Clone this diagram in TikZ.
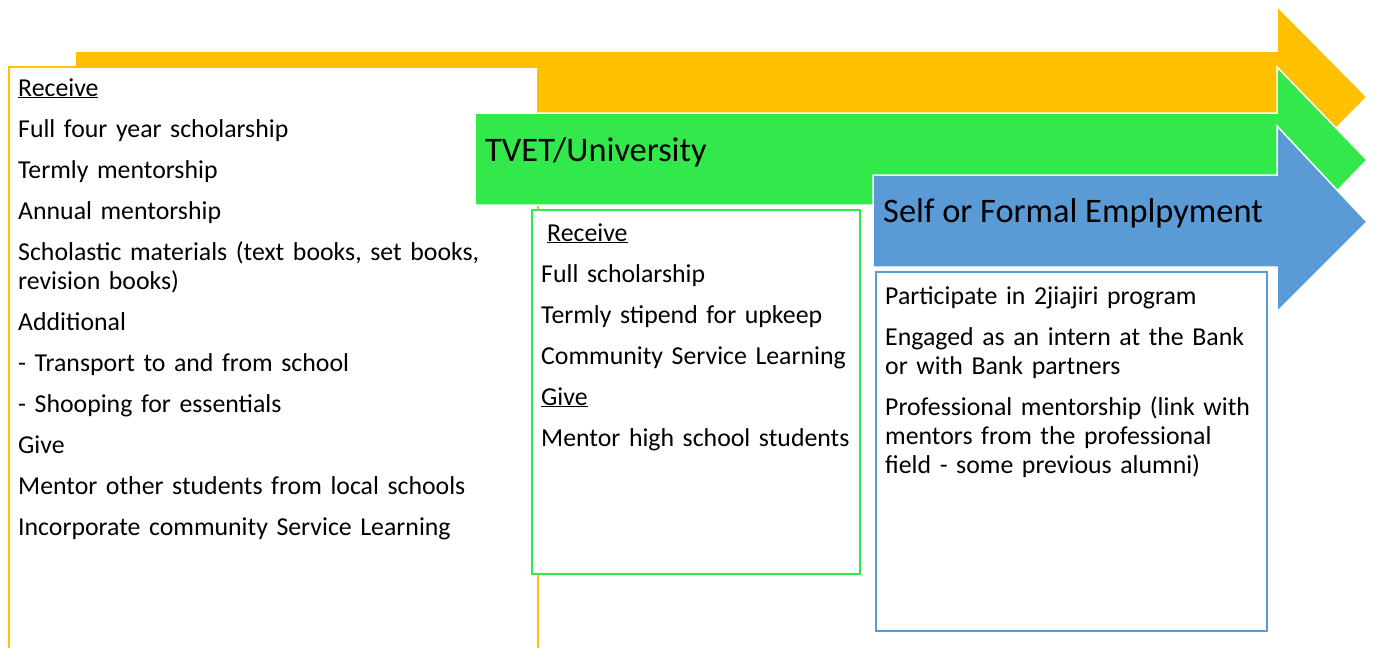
\documentclass[tikz,border=0pt]{standalone}
\usepackage{fontspec}
\setmainfont{Carlito}
\definecolor{amber}{HTML}{FFC000}
\definecolor{leaf}{HTML}{33E84B}
\definecolor{sky}{HTML}{5B9BD5}
\hyphenpenalty=10000

\begin{document}
\begin{tikzpicture}[x=1pt,y=-1pt,
  band/.style={draw=white, line width=1.5pt, line join=miter},
  panel/.style={fill=white, line width=2.2pt},
  body/.style={anchor=base west, inner sep=0pt, align=left,
    text width=#1, font=\fontsize{25.8}{29}\selectfont},
  head/.style={anchor=base west, inner sep=0pt,
    font=\fontsize{34.4}{40}\selectfont}]
\useasboundingbox (0,0) rectangle (1375,648);

% high school stage: orange arrow and its open-ended panel
\path[band, fill=amber] (75,51) -- (1277,51) -- (1277,6) -- (1367,97)
  -- (1277,188) -- (1277,143) -- (75,143) -- cycle;
\path[fill=white] (9,67) rectangle (538,648);
\draw[amber, line width=2pt] (9,648) -- (9,67) -- (538,67) -- (538,648);
\node[body=515pt] (school) at (18,96) {%
  \underline{Receive}\\[12pt]
  Full four year scholarship\\[12pt]
  Termly mentorship\\[12pt]
  Annual mentorship\\[12pt]
  Scholastic materials (text books, set books,\\
  revision books)\\[12pt]
  Additional\\[12pt]
  - Transport to and from school\\[12pt]
  - Shooping for essentials\\[12pt]
  Give\\[12pt]
  Mentor other students from local schools\\[12pt]
  Incorporate community Service Learning};

% TVET / university stage: green arrow and panel
\path[band, fill=leaf] (475,113) -- (1277,113) -- (1277,67) -- (1367,160)
  -- (1277,253) -- (1277,205) -- (475,205) -- cycle;
\node[head] (tvet) at (485,161) {TVET/University};
\draw[panel, draw=leaf] (532,210) rectangle (860,574);
\node[body=330pt] (college) at (541,241) {%
  \hspace*{6pt}\underline{Receive}\\[12pt]
  Full scholarship\\[12pt]
  Termly stipend for upkeep\\[12pt]
  Community Service Learning\\[12pt]
  \underline{Give}\\[12pt]
  Mentor high school students};

% employment stage: blue arrow and panel
\path[band, fill=sky] (873,175) -- (1277,175) -- (1277,126) -- (1367,222)
  -- (1277,312) -- (1277,267) -- (873,267) -- cycle;
\node[head] (work) at (883,222) {Self or Formal Emplpyment};
\draw[panel, draw=sky] (876,272) rectangle (1267,631);
\node[body=380pt] (career) at (885,304) {%
  Participate in 2jiajiri program\\[12pt]
  Engaged as an intern at the Bank\\
  or with Bank partners\\[12pt]
  Professional mentorship (link with\\
  mentors from the professional\\
  field - some previous alumni)};
\end{tikzpicture}
\end{document}
